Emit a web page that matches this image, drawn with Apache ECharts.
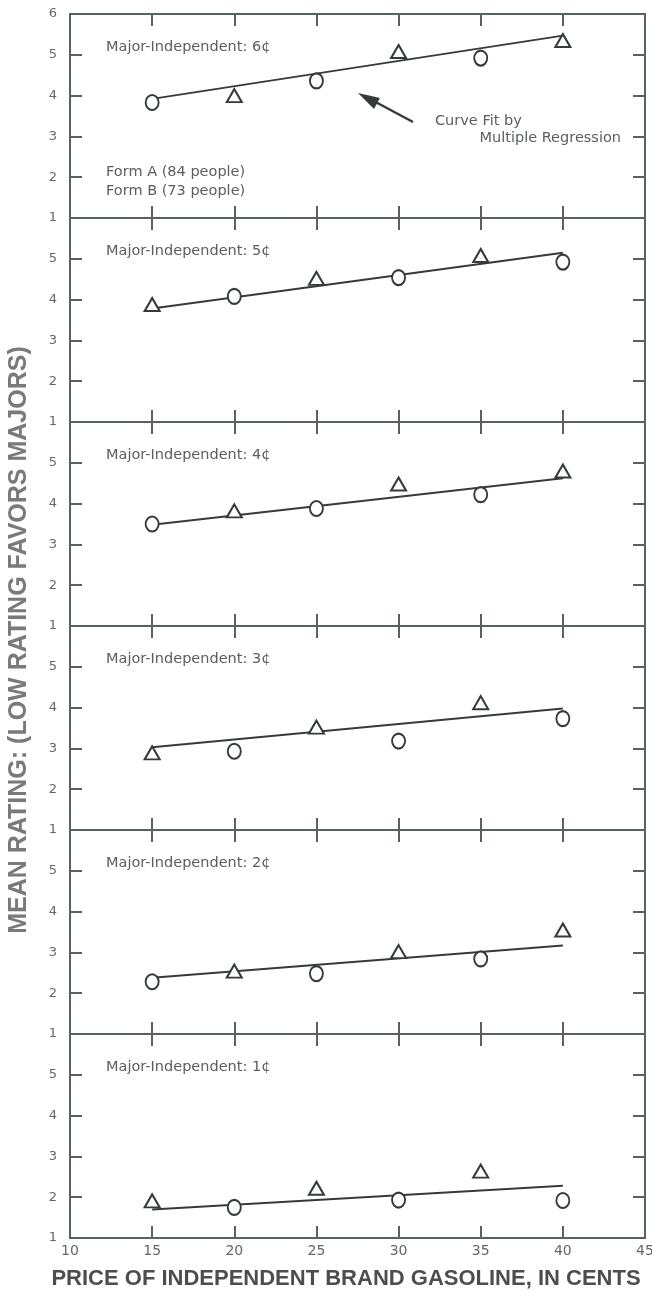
<!DOCTYPE html>
<html>
<head>
<meta charset="utf-8">
<script src="https://cdn.jsdelivr.net/npm/echarts@6/dist/echarts.min.js"></script>
<style>
html,body{margin:0;padding:0;background:#fff;}
#chart{width:652px;height:1292px;}
</style>
</head>
<body>
<div id="chart"></div>
<script>
// ---- data ----
const prices = [15, 20, 25, 30, 35, 40];
const xTicks = [10, 15, 20, 25, 30, 35, 40, 45];
const yTicks = [1, 2, 3, 4, 5, 6];
const panelLabels = ['Major-Independent: 6¢', 'Major-Independent: 5¢', 'Major-Independent: 4¢',
                     'Major-Independent: 3¢', 'Major-Independent: 2¢', 'Major-Independent: 1¢'];
const rating6 = [3.83, 4.00, 4.36, 5.08, 4.92, 5.35];
const rating5 = [3.88, 4.08, 4.52, 4.54, 5.08, 4.92];
const rating4 = [3.50, 3.82, 3.88, 4.48, 4.22, 4.80];
const rating3 = [2.89, 2.93, 3.52, 3.18, 4.12, 3.73];
const rating2 = [2.28, 2.54, 2.48, 3.02, 2.84, 3.55];
const rating1 = [1.91, 1.75, 2.22, 1.93, 2.64, 1.92];
// which marker the first point (15 cents) of each panel uses; they alternate
const firstMarker = ['circle', 'triangle', 'circle', 'triangle', 'circle', 'triangle'];
// regression fit line: value at 15 and 40 cents
const fitX = [15, 40];
const fitStart = [3.92, 3.78, 3.48, 3.03, 2.38, 1.70];
const fitEnd = [5.47, 5.15, 4.62, 3.98, 3.17, 2.28];

const ratings = [rating6, rating5, rating4, rating3, rating2, rating1];

// ---- layout ----
const L = 70, R = 645, TOP = 14, PH = 204;
const frame = '#56645c';
const ink = '#363b38';
const textCol = '#5a5f5c';
const txtFont = 'DejaVu Sans';

const grids = [], xAxes = [], yAxes = [], series = [], graphics = [];
for (let i = 0; i < 6; i++) {
  grids.push({left: L, width: R - L, top: TOP + i * PH, height: PH,
              containLabel: false, outerBoundsMode: 'none'});
  const xBase = {
    type: 'value', gridIndex: i, min: xTicks[0], max: xTicks[xTicks.length - 1], interval: 5,
    axisLine: {show: true, onZero: false, lineStyle: {color: frame, width: 2}},
    axisTick: {show: true, inside: true, length: 12, lineStyle: {color: frame, width: 2}},
    splitLine: {show: false}
  };
  xAxes.push(Object.assign({}, xBase, {
    position: 'bottom',
    axisLabel: {show: i === 5, color: '#666', fontFamily: txtFont, fontSize: 14, margin: 6}
  }));
  xAxes.push(Object.assign({}, xBase, {position: 'top', axisLabel: {show: false}}));
  const yBase = {
    type: 'value', gridIndex: i, min: yTicks[0], max: yTicks[yTicks.length - 1], interval: 1,
    axisLine: {show: true, onZero: false, lineStyle: {color: frame, width: 2}},
    axisTick: {show: true, inside: true, length: 12, lineStyle: {color: frame, width: 2}},
    splitLine: {show: false}
  };
  yAxes.push(Object.assign({}, yBase, {
    position: 'left',
    axisLabel: {show: true, color: '#666', fontFamily: txtFont, fontSize: 13, margin: 13,
                showMaxLabel: i === 0, showMinLabel: true}
  }));
  yAxes.push(Object.assign({}, yBase, {position: 'right', axisLabel: {show: false}}));

  const xi = i * 2, yi = i * 2;
  series.push({
    type: 'line', name: 'Curve fit', xAxisIndex: xi, yAxisIndex: yi,
    data: [[fitX[0], fitStart[i]], [fitX[1], fitEnd[i]]],
    symbol: 'none', lineStyle: {color: ink, width: 2}, z: 2, silent: true
  });
  const circ = [], tri = [];
  prices.forEach((p, k) => {
    const isCirc = (k % 2 === 0) === (firstMarker[i] === 'circle');
    (isCirc ? circ : tri).push([p, ratings[i][k]]);
  });
  series.push({
    type: 'scatter', name: 'Form A', xAxisIndex: xi, yAxisIndex: yi, data: circ,
    symbol: 'circle', symbolSize: [13, 15],
    itemStyle: {color: '#fff', borderColor: ink, borderWidth: 2, opacity: 1}, z: 5
  });
  series.push({
    type: 'scatter', name: 'Form B', xAxisIndex: xi, yAxisIndex: yi, data: tri,
    symbol: 'triangle', symbolSize: [15, 13],
    itemStyle: {color: '#fff', borderColor: ink, borderWidth: 2, opacity: 1}, z: 5
  });

  graphics.push({
    type: 'text', left: 106, top: TOP + i * PH + 26, z: 10,
    style: {text: panelLabels[i], font: '14.5px "' + txtFont + '"', fill: textCol}
  });
}

// annotations in the top panel
graphics.push({type: 'text', left: 435, top: 114, z: 10,
  style: {text: 'Curve Fit by', font: '14.5px "' + txtFont + '"', fill: textCol}});
graphics.push({type: 'text', right: 652 - 621, top: 131, z: 10,
  style: {text: 'Multiple Regression', font: '14.5px "' + txtFont + '"', fill: textCol}});
graphics.push({type: 'text', left: 106, top: 165, z: 10,
  style: {text: 'Form A (84 people)', font: '14.5px "' + txtFont + '"', fill: textCol}});
graphics.push({type: 'text', left: 106, top: 184, z: 10,
  style: {text: 'Form B (73 people)', font: '14.5px "' + txtFont + '"', fill: textCol}});
// arrow
graphics.push({type: 'line', z: 10, shape: {x1: 413, y1: 122, x2: 370, y2: 99},
  style: {stroke: ink, lineWidth: 2.5}});
graphics.push({type: 'polygon', z: 10,
  shape: {points: [[358, 93], [380, 98], [374, 109]]},
  style: {fill: ink}});

// axis titles
graphics.push({type: 'text', x: 19, y: 640, rotation: Math.PI / 2, z: 10,
  style: {text: 'MEAN RATING: (LOW RATING FAVORS MAJORS)', x: 0, y: 0,
    textAlign: 'center', textVerticalAlign: 'middle', align: 'center', verticalAlign: 'middle',
    font: 'bold 25px "Liberation Sans"', fill: '#7a7a7a'}});
graphics.push({type: 'text', x: 346, y: 1279, z: 10,
  style: {text: 'PRICE OF INDEPENDENT BRAND GASOLINE, IN CENTS', x: 0, y: 0,
    textAlign: 'center', textVerticalAlign: 'middle', align: 'center', verticalAlign: 'middle',
    font: 'bold 22px "Liberation Sans"', fill: '#4d4d4d'}});

const chart = echarts.init(document.getElementById('chart'), null, {renderer: 'canvas'});
chart.setOption({
  backgroundColor: '#fff',
  animation: false,
  grid: grids,
  xAxis: xAxes,
  yAxis: yAxes,
  series: series,
  graphic: graphics
});
</script>
</body>
</html>
